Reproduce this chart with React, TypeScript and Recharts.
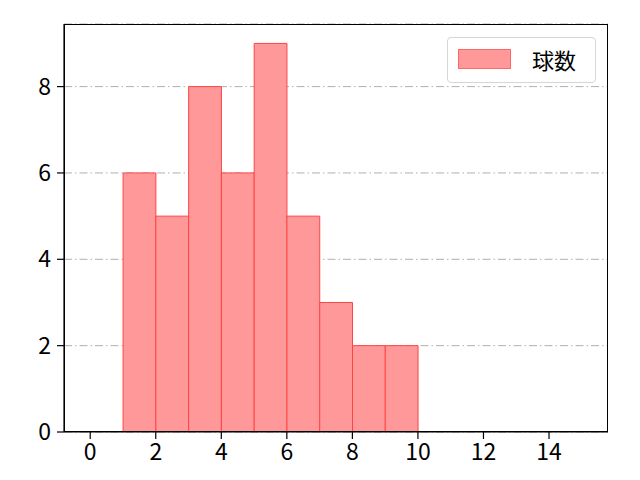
import React from "react";
import { ComposedChart, Bar, XAxis, YAxis, CartesianGrid, Rectangle } from "recharts";

const binCenters = [1.5, 2.5, 3.5, 4.5, 5.5, 6.5, 7.5, 8.5, 9.5];
const counts = [6, 5, 8, 6, 9, 5, 3, 2, 2];
const xTicks = [0, 2, 4, 6, 8, 10, 12, 14];
const yTicks = [0, 2, 4, 6, 8];
const seriesName = "球数";

const data = binCenters.map((x, i) => ({ x, v: counts[i] }));

const FONT = "'Noto Sans CJK JP', 'DejaVu Sans', sans-serif";
const BIN_PX = 32.79;

const HistBar = (props: any) => {
  const { x, y, width, height } = props;
  const cx = x + width / 2;
  return (
    <Rectangle
      x={cx - BIN_PX / 2}
      y={y}
      width={BIN_PX}
      height={height}
      fill="#FF9999"
      stroke="#FF4444"
      strokeWidth={1}
    />
  );
};

const LegendBox = () => (
  <div
    style={{
      position: "absolute",
      left: 447,
      top: 37,
      width: 149,
      height: 46,
      border: "1px solid #d6d6d6",
      borderRadius: 4,
      background: "rgba(255,255,255,0.8)",
      boxSizing: "border-box",
      fontFamily: FONT,
      fontSize: 22,
      color: "#000",
    }}
  >
    <div
      style={{
        position: "absolute",
        left: 10,
        top: 11,
        width: 53,
        height: 20,
        background: "#FF9999",
        border: "1px solid #FF6666",
        boxSizing: "border-box",
      }}
    />
    <span style={{ position: "absolute", left: 84, top: 5, lineHeight: "32px" }}>{seriesName}</span>
  </div>
);

export default function App() {
  return (
    <div style={{ position: "absolute", left: 0, top: 0, width: 640, height: 480, background: "#fff" }}>
      <ComposedChart
        width={640}
        height={480}
        data={data}
        margin={{ top: 24, right: 32, left: 0, bottom: 0 }}
        barCategoryGap={0}
        barGap={0}
      >
        <CartesianGrid
          xAxisId="main"
          yAxisId="main"
          vertical={false}
          stroke="#b0b0b0"
          strokeDasharray="8 3 1.5 3"
          strokeWidth={1}
        />
        <XAxis
          xAxisId="main"
          type="number"
          dataKey="x"
          domain={[-0.8, 15.8]}
          ticks={xTicks}
          allowDataOverflow
          height={48}
          stroke="#000"
          tickSize={7}
          tickMargin={5}
          tick={{ fill: "#000", fontSize: 23, fontFamily: FONT }}
          axisLine={{ stroke: "#000", strokeWidth: 1.2 }}
          tickLine={{ stroke: "#000", strokeWidth: 1.2 }}
          interval={0}
        />
        <YAxis
          yAxisId="main"
          type="number"
          domain={[0, 9.45]}
          ticks={yTicks}
          allowDataOverflow
          width={64}
          tickSize={7}
          tickMargin={6}
          tick={{ fill: "#000", fontSize: 23, fontFamily: FONT }}
          axisLine={{ stroke: "#000", strokeWidth: 1.2 }}
          tickLine={{ stroke: "#000", strokeWidth: 1.2 }}
          interval={0}
        />
        <Bar
          xAxisId="main"
          yAxisId="main"
          dataKey="v"
          name={seriesName}
          fill="#FF9999"
          stroke="#FF4444"
          shape={HistBar}
          isAnimationActive={false}
        />
      </ComposedChart>
      <div
        style={{
          position: "absolute",
          left: 64,
          top: 24,
          width: 544,
          height: 408,
          border: "1.2px solid #000",
          boxSizing: "border-box",
          pointerEvents: "none",
        }}
      />
      <LegendBox />
    </div>
  );
}
